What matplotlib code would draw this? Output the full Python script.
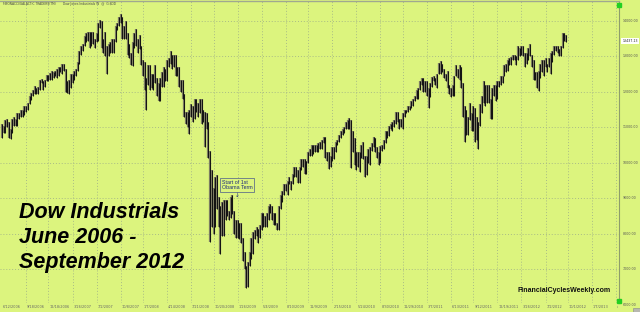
import matplotlib
matplotlib.use("Agg")
import matplotlib.pyplot as plt
from matplotlib.transforms import Bbox, TransformedBbox
import numpy as np
import pandas as pd

# weekly Dow Jones Industrials, week starting 6/12/2006 ... 9/24/2012
start = pd.Timestamp("2006-06-12")

highs_2006 = [11100, 11050, 11200, 11250, 11150, 10950, 11250, 11300, 11250, 11400,
              11400, 11500, 11500, 11600, 11600, 11700, 11900, 11980, 12050, 12170,
              12100, 12150, 12350, 12370, 12300, 12350, 12470, 12480, 12530]
lows_2006 = [10700, 10850, 10850, 11000, 10700, 10680, 10850, 11050, 11050, 11050,
             11250, 11300, 11300, 11350, 11450, 11500, 11650, 11780, 11900, 11950,
             11930, 11950, 12050, 12250, 12050, 12150, 12300, 12300, 12340]

highs_2007 = [12580, 12560, 12600, 12650, 12700, 12700, 12780, 12800, 12650, 12300,
              12350, 12500, 12500, 12600, 12650, 12850, 13150, 13300, 13350, 13570,
              13650, 13700, 13700, 13700, 13700, 13500, 13650, 13950, 14020, 14000,
              13500, 13700, 13300, 13350, 13400, 13500, 13500, 13850, 13950, 14100,
              14200, 14100, 13850, 14000, 13650, 13350, 13100, 13400, 13650, 13780,
              13500, 13600]
lows_2007 = [12350, 12380, 12450, 12400, 12450, 12550, 12520, 12600, 12000, 11980,
             11940, 12100, 12250, 12350, 12450, 12600, 12800, 13050, 13150, 13300,
             13400, 13450, 13250, 13300, 13350, 13250, 13400, 13450, 13800, 13250,
             13100, 13000, 12520, 13000, 13100, 13100, 13100, 13400, 13750, 13850,
             13950, 13500, 13500, 13500, 13050, 12950, 12750, 12720, 13250, 13300,
             13100, 13200]

highs_2008 = [13300, 12900, 12850, 12400, 12750, 12750, 12500, 12500, 12750, 12400,
              12250, 12400, 12550, 12700, 12650, 12900, 12950, 13150, 13050, 13050,
              13050, 12700, 12700, 12350, 12350, 11950, 11450, 11450, 11500, 11650,
              11600, 11800, 11800, 11700, 11800, 11800, 11500, 11450, 11400, 11150,
              10330, 9800, 9300, 9600, 9650, 9050, 8800, 8900, 8950, 8950,
              8950, 8650, 9050]
lows_2008 = [12750, 12450, 12050, 11500, 12200, 12050, 12100, 12050, 12250, 11900,
             11750, 11750, 12150, 12150, 12300, 12300, 12700, 12800, 12650, 12700,
             12450, 12450, 12150, 12000, 11800, 11300, 11100, 11000, 10830, 11300,
             11150, 11250, 11450, 11300, 11400, 11100, 11150, 10450, 10950, 10150,
             7770, 8200, 8000, 8200, 8700, 8200, 7450, 7950, 7950, 8400,
             8500, 8400, 8450]

highs_2009 = [9100, 8650, 8400, 8400, 8300, 8300, 7900, 7500, 7100, 7200,
              7500, 7900, 8050, 8100, 8200, 8150, 8250, 8600, 8600, 8500,
              8600, 8800, 8850, 8800, 8600, 8600, 8300, 8800, 9100, 9200,
              9400, 9400, 9500, 9600, 9500, 9700, 9900, 9900, 9800, 9900,
              10100, 10100, 10100, 10050, 10300, 10400, 10500, 10500, 10500, 10500,
              10550, 10600]
lows_2009 = [8550, 8000, 7900, 7900, 7850, 7750, 7250, 7000, 6470, 6520,
             7100, 7300, 7450, 7850, 7950, 7750, 7900, 8100, 8200, 8200,
             8200, 8400, 8600, 8400, 8250, 8250, 8100, 8100, 8700, 8900,
             9100, 9200, 9100, 9400, 9250, 9400, 9600, 9600, 9450, 9450,
             9800, 9900, 9700, 9700, 10000, 10200, 10200, 10250, 10300, 10300,
             10300, 10400]

highs_2010 = [10650, 10730, 10730, 10300, 10300, 10200, 10450, 10450, 10600, 10650,
              10800, 10900, 10950, 11000, 11150, 11200, 11260, 11200, 10900, 10700,
              10300, 10300, 10300, 10500, 10600, 10200, 10200, 10400, 10450, 10550,
              10720, 10700, 10450, 10300, 10470, 10500, 10650, 10900, 10900, 11050,
              11100, 11150, 11200, 11450, 11450, 11250, 11250, 11400, 11500, 11500,
              11600, 11600]
lows_2010 = [10400, 10550, 10150, 10050, 9830, 9900, 10050, 10100, 10300, 10500,
             10600, 10700, 10800, 10850, 10950, 10950, 10950, 9870, 10300, 9950,
             9800, 9900, 9750, 10150, 10100, 9600, 9650, 10000, 9950, 10350,
             10450, 10300, 10150, 9940, 10000, 10350, 10400, 10550, 10700, 10750,
             10950, 10900, 11000, 11100, 11150, 10950, 11000, 10950, 11300, 11400,
             11450, 11500]

highs_2011 = [11750, 11800, 11900, 12050, 12100, 12300, 12400, 12400, 12300, 12300,
              12100, 12250, 12420, 12450, 12400, 12500, 12820, 12880, 12800, 12650,
              12500, 12600, 12200, 12100, 12200, 12450, 12750, 12650, 12750, 12700,
              12250, 11600, 11500, 11300, 11700, 11400, 11600, 11550, 11300, 11150,
              11650, 11900, 12300, 12200, 12200, 12200, 11800, 12100, 12200, 12200,
              12300, 12300]
lows_2011 = [11550, 11600, 11750, 11800, 11800, 12050, 12200, 12000, 12000, 11900,
             11550, 11850, 12150, 12300, 12200, 12100, 12500, 12500, 12550, 12400,
             12300, 12100, 11950, 11850, 11900, 11900, 12450, 12400, 12350, 12100,
             11300, 10600, 10800, 10800, 11200, 10900, 10900, 10600, 10650, 10400,
             11050, 11400, 11700, 11600, 11700, 11700, 11230, 11250, 11900, 11750,
             11800, 12150]

highs_2012 = [12450, 12450, 12750, 12800, 12900, 12950, 12980, 13050, 13050, 13000,
              13300, 13250, 13300, 13300, 13100, 13100, 13250, 13340, 13050, 12900,
              12550, 12550, 12600, 12800, 12900, 12900, 12950, 12800, 12950, 13100,
              13150, 13300, 13300, 13300, 13200, 13300, 13650, 13650, 13600]
lows_2012 = [12200, 12250, 12450, 12550, 12600, 12750, 12750, 12900, 12900, 12750,
             12900, 13000, 13050, 13000, 12700, 12800, 12900, 13000, 12700, 12350,
             12350, 12100, 12030, 12400, 12550, 12450, 12700, 12550, 12700, 12500,
             12850, 13050, 13150, 13100, 13000, 13000, 13250, 13450, 13400]

last_close = 13437.13
y_ticks = [6000, 7000, 8000, 9000, 10000, 11000, 12000, 13000, 14000]

highs = np.array(highs_2006 + highs_2007 + highs_2008 + highs_2009 + highs_2010 + highs_2011 + highs_2012)
lows = np.array(lows_2006 + lows_2007 + lows_2008 + lows_2009 + lows_2010 + lows_2011 + lows_2012)
weeks = np.arange(len(highs))

bg = "#dcf47e"
grid_c = "#a9bb86"

fig = plt.figure(figsize=(6.4, 3.12), dpi=100)
fig.patch.set_facecolor(bg)
ax = fig.add_axes([0, 9 / 312, 619 / 640, 302 / 312])
ax.set_facecolor(bg)
ax.set_xlim(-1.16, 358.7)
ax.set_ylim(6056, 14563)

# grid
for v in y_ticks[1:]:
    ax.axhline(v, color=grid_c, lw=0.7, ls=(0, (1, 2)), zorder=0)
tick_weeks = [int(round(k * 13.72)) for k in range(27)]
for w in tick_weeks[1:]:
    ax.axvline(w, color=grid_c, lw=0.7, ls=(0, (1, 2)), zorder=0)

# bars
ax.vlines(weeks, lows, highs, color="#7c7c62", lw=1.6, zorder=2)
ax.vlines(weeks, lows, highs, color="#111111", lw=0.7, zorder=3)

for s in ["left", "bottom"]:
    ax.spines[s].set_visible(False)
ax.spines["right"].set_color("#8e9e6a")
ax.spines["right"].set_linewidth(0.8)
ax.spines["top"].set_color("#a0a890")
ax.spines["top"].set_linewidth(1.0)
ax.set_xticks([])
ax.set_yticks([])

# right side price labels
for v in y_ticks:
    ax.text(1.0065, v, f"{v:.2f}", transform=ax.get_yaxis_transform(), fontsize=2.3,
            color="#555555", va="center", ha="left", clip_on=False)
ax.text(1.0055, last_close, f"{last_close:.2f}", transform=ax.get_yaxis_transform(),
        fontsize=2.3, color="#222222", va="center", ha="left", clip_on=False,
        bbox=dict(boxstyle="square,pad=0.3", fc="white", ec="none"))

# green markers at the corners of the price scale
ax.plot([1.0, 1.0], [0.987, 0.006], "s", color="#22d022", ms=3.2,
        transform=ax.transAxes, clip_on=False, zorder=5)

# date labels, cut off at the price scale line
date_clip = TransformedBbox(Bbox([[0, 0], [618 / 640, 1]]), fig.transFigure)
for w in tick_weeks:
    d = start + pd.Timedelta(weeks=w)
    t = ax.text(w + 0.6, -0.006, f"{d.month}/{d.day}/{d.year}", transform=ax.get_xaxis_transform(),
                fontsize=2.5, color="#666666", ha="left", va="top")
    t.set_clip_box(date_clip)
    t.set_clip_on(True)

# small box at bottom right corner
fig.patches.append(plt.Rectangle((633 / 640, 0), 7 / 640, 4.5 / 312, transform=fig.transFigure,
                                 fc="#b8b8b0", ec="#888888", lw=0.4))

# header
fig.text(3 / 640, 1 - 4 / 312, "FIBONACCI/GALACTIC TRADERS(TM)", fontsize=2.2,
         color="#444444", va="center", ha="left")
fig.text(63 / 640, 1 - 4 / 312, "Dow Jones Industrials W  @  G:$DD", fontsize=2.2,
         color="#444444", va="center", ha="left")

# title block
title_lines = ["Dow Industrials", "June 2006 -", "September 2012"]
for i, line in enumerate(title_lines):
    fig.text(19 / 640, 1 - (218 + 25 * i) / 312, line, fontsize=15.5,
             fontweight="bold", fontstyle="italic", family="Liberation Sans",
             color="black", va="baseline", ha="left")

fig.text(518 / 640, 1 - 292 / 312, "FinancialCyclesWeekly.com", fontsize=5.0,
         fontweight="bold", family="Liberation Sans", color="#111111",
         va="baseline", ha="left")

# Obama annotation
fig.text(222 / 640, 1 - 185 / 312, "Start of 1st\nObama Term", fontsize=3.8,
         color="#1c2a7a", va="center", ha="left", linespacing=1.1,
         family="Liberation Sans",
         bbox=dict(boxstyle="square,pad=0.3", fc=bg, ec="#4a5a8a", lw=0.5))
fig.text(237 / 640, 1 - 195 / 312, "\u2193", fontsize=4, color="#1c2a7a",
         va="center", ha="center")

fig.savefig("out.png", dpi=100, facecolor=bg)
